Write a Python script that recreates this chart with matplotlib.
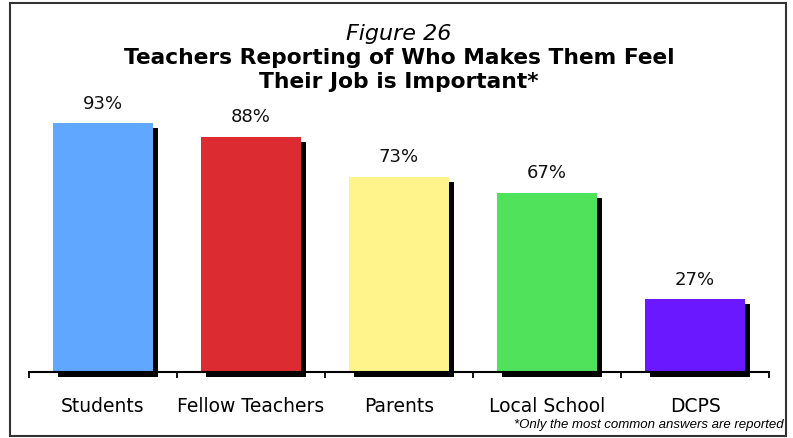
import matplotlib
matplotlib.use("Agg")
import matplotlib.pyplot as plt
import matplotlib.transforms as mtransforms
from matplotlib.patches import Rectangle

categories = ["Students", "Fellow Teachers", "Parents", "Local School", "DCPS"]
values = [93, 88, 73, 67, 27]
labels = ["93%", "88%", "73%", "67%", "27%"]
colors = ["#60A8FF", "#DC2C32", "#FFF38C", "#50E25A", "#6A18FF"]

plt.rcParams['font.family'] = ['DejaVu Sans']

W, H = 793, 439
fig = plt.figure(figsize=(W / 100, H / 100), dpi=100)
ax = fig.add_axes([29 / W, 66.5 / H, 740 / W, 267 / H])

x = list(range(len(categories)))
bw = 100 / 148

# shadows
shadow_tr = ax.transData + mtransforms.ScaledTranslation(4.5 / 100, -5 / 100, fig.dpi_scale_trans)
for xi, v in zip(x, values):
    r = Rectangle((xi - bw / 2, 0), bw, v, facecolor="black", edgecolor="none",
                  transform=shadow_tr, clip_on=False, zorder=1)
    ax.add_patch(r)

ax.bar(x, values, width=bw, color=colors, edgecolor="none", zorder=2)

for xi, v, lab in zip(x, values, labels):
    ax.annotate(lab, (xi, v), xytext=(0, 8), textcoords="offset points",
                ha="center", va="bottom", fontsize=13, color="#111111")

ax.set_xlim(-0.5, len(categories) - 0.5)
ax.set_ylim(0, 100)
for s in ["top", "right", "left"]:
    ax.spines[s].set_visible(False)
ax.spines["bottom"].set_linewidth(1.5)
ax.spines["bottom"].set_zorder(3)
ax.set_yticks([])
ax.set_xticks([i - 0.5 for i in range(len(categories) + 1)])
ax.set_xticklabels([])
ax.tick_params(axis="x", which="major", direction="out", length=4.5, width=1.3)
ax.set_xticks(x, minor=True)
ax.set_xticklabels(categories, minor=True, fontsize=13.5)
ax.tick_params(axis="x", which="minor", length=0, pad=17.5)

fig.text(399 / W, 1 - 34 / H, "Figure 26", ha="center", va="center",
         fontsize=16, style="italic")
fig.text(399 / W, 1 - 58 / H, "Teachers Reporting of Who Makes Them Feel", ha="center",
         va="center", fontsize=15.7, fontweight="bold")
fig.text(399 / W, 1 - 82 / H, "Their Job is Important*", ha="center",
         va="center", fontsize=15.7, fontweight="bold")
fig.text(784 / W, 1 - 425 / H, "*Only the most common answers are reported", ha="right",
         va="center", fontsize=9.5, style="italic", family=["Liberation Sans", "DejaVu Sans"])

fig.add_artist(Rectangle((9.5 / W, 2.5 / H), 776 / W, 432.5 / H, transform=fig.transFigure,
                         fill=False, edgecolor="#333333", linewidth=1.5))

fig.savefig("out.png", dpi=100)
